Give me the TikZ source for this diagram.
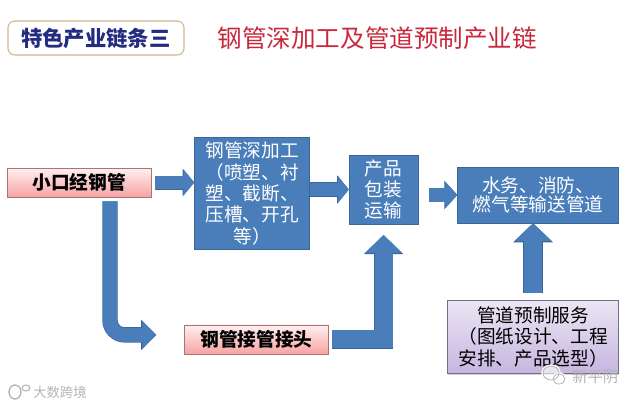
\documentclass[tikz,border=0pt]{standalone}
\usepackage{fontspec}
\setmainfont{Noto Sans CJK SC}
\usetikzlibrary{arrows.meta, positioning, shadows}
\definecolor{chainblue}{HTML}{4A7EBB}
\definecolor{chainedge}{HTML}{3A6596}
\definecolor{chainnavy}{HTML}{232C80}
\definecolor{chainred}{HTML}{C9283C}
\definecolor{chaintan}{HTML}{CDB68C}
\definecolor{chainpink}{HTML}{F7A3A3}
\definecolor{chainlilac}{HTML}{C6B6E0}
\definecolor{chainmark}{HTML}{B4B4B4}

\begin{document}
\begin{tikzpicture}[
    x=0.75pt, y=-0.75pt,
    bluebox/.style={rectangle, draw=chainedge, fill=chainblue, text=white, align=center, font=\fontsize{14}{16}\selectfont},
    pinkbox/.style={rectangle, draw=chainpink!70!black, top color=red!6, bottom color=chainpink, text=black, minimum width=108pt, minimum height=21.75pt, align=center, font=\fontsize{14}{16}\bfseries\selectfont, drop shadow={shadow xshift=0.6pt, shadow yshift=-0.8pt, opacity=0.35}},
    lilacbox/.style={rectangle, draw=chainlilac!60!black, top color=chainlilac!35, bottom color=chainlilac, text=black, align=center, minimum width=128.25pt, minimum height=54.75pt, font=\fontsize{14}{16.3}\selectfont, drop shadow={shadow xshift=0.6pt, shadow yshift=-0.8pt, opacity=0.35}},
    markup/.style={text=chainmark, inner sep=0pt, font=\fontsize{10}{12}\selectfont},
    blockarrow/.style n args={3}{-{Triangle[length=#2, width=#3]}, line width=#1, chainblue,
        preaction={draw=chainedge, line width=#1+1pt, -{Triangle[length=#2+0.8pt, width=#3+1.4pt]}}}
]

% Row 0: The Heading
\node[rectangle, rounded corners=5pt, draw=chaintan, thick, fill=white, text=chainnavy, minimum width=132pt, minimum height=25.5pt, font=\fontsize{16}{18}\bfseries\selectfont] (label) at (96,38) {特色产业链条三};
\node[right=24.75pt of label, inner sep=0pt, text=chainred, font=\fontsize{18.4}{20}\selectfont] (heading) {钢管深加工及管道预制产业链};

% Row 1: The Main Chain
\node[pinkbox] (kou) at (79,182.5) {小口经钢管};
\node[bluebox, minimum width=86.25pt, minimum height=80.25pt, right=32.25pt of kou, yshift=-8.25pt] (craft) {钢管深加工\\（喷塑、衬\\塑、截断、\\压槽、开孔\\等）};
\node[bluebox, minimum width=51.75pt, minimum height=51.75pt, right=29.25pt of craft, yshift=3pt] (pack) {产品\\包装\\运输};
\node[bluebox, minimum width=120.75pt, minimum height=42pt, right=29.25pt of pack, yshift=-4.1pt, font=\fontsize{14}{14.6}\selectfont] (water) {水务、消防、\\燃气等输送管道};

% Row 2: The Feeders
\node[pinkbox, below=56.25pt of craft, xshift=3.4pt] (joint) {钢管接管接头};
\node[lilacbox, below=57.75pt of water.south east, anchor=north east] (service) {管道预制服务\\（图纸设计、工程\\安排、产品选型）};

% Arrows Row 1
\draw[blockarrow={9.5pt}{8pt}{19pt}, shorten <=3pt] (kou.east) -- (kou.east -| craft.west);
\draw[blockarrow={10pt}{8pt}{19.5pt}] (pack.west -| craft.east) -- (pack.west);
\draw[blockarrow={10pt}{9pt}{19.5pt}, shorten <=8pt] (water.west -| pack.east) -- (water.west);

% Arrows Row 2
\draw[blockarrow={13.5pt}{13.5pt}{27.5pt}, shorten <=5.25pt] (service.north) -- (service.north |- water.south);
\draw[blockarrow={13.5pt}{13.5pt}{27pt}, shorten <=2pt, shorten >=8pt] (joint.east) -| (pack.south);
\draw[blockarrow={10.5pt}{10.5pt}{20.5pt}, rounded corners=11pt, shorten <=3pt, shorten >=21pt] ([xshift=23.25pt]kou.south) |- ([yshift=3.4pt]joint.west);

% Watermarks
\node[markup, anchor=west] (mark_left) at (33,392) {大数跨境};
\node[markup, anchor=west, font=\fontsize{11.5}{13}\selectfont] (mark_right) at (572,377) {新平阴};
\draw[chainmark, line width=1pt] (15,392) ellipse (6 and 7);
\draw[chainmark, line width=0.8pt] (26,388) ellipse (4 and 3);
\draw[white, fill=white, fill opacity=0.6, line width=1pt] (551,373) ellipse (9 and 8);
\draw[white, fill=white, fill opacity=0.6, line width=1pt] (559,379) ellipse (7 and 6);
\draw[chainmark, line width=0.6pt] (551,373) ellipse (8 and 7);
\draw[chainmark, line width=0.6pt] (559,379) ellipse (6 and 5);

\useasboundingbox (0,0) rectangle (640,404);
\end{tikzpicture}
\end{document}
